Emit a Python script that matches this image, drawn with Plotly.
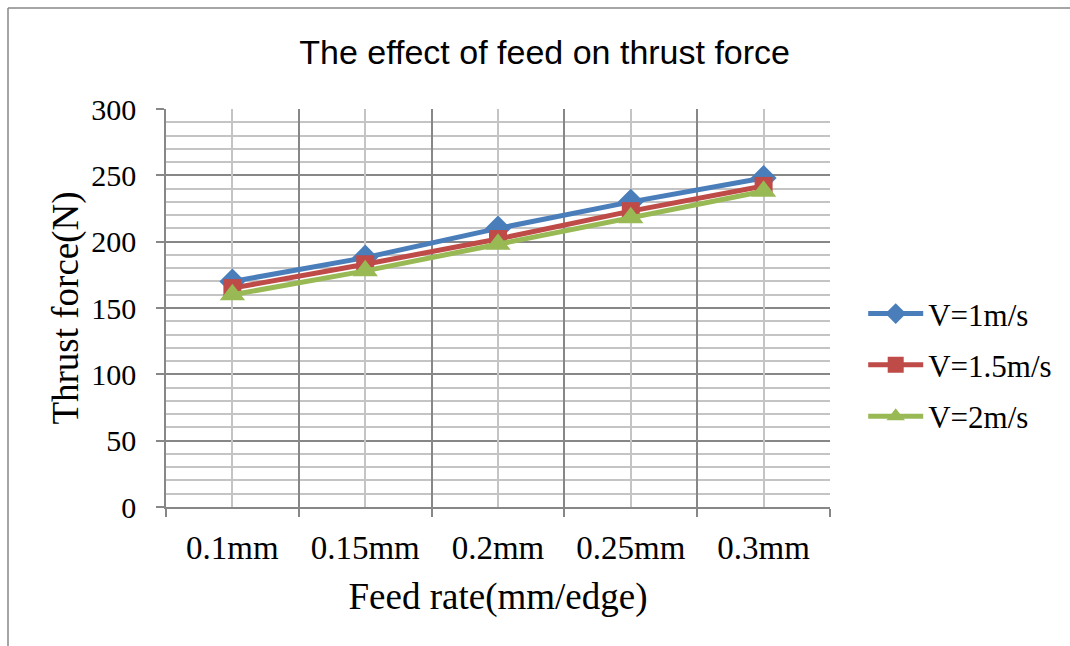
import plotly.graph_objects as go

categories = ["0.1mm", "0.15mm", "0.2mm", "0.25mm", "0.3mm"]
v1 = [170, 188, 210, 230, 248]
v15 = [165, 183, 202, 223, 242]
v2 = [160, 178, 198, 218, 238]
series_names = ["V=1m/s", "V=1.5m/s", "V=2m/s"]

colors = ["#4A7EBB", "#BE4B48", "#98B954"]
symbols = ["diamond", "square", "triangle-up"]
sizes = [20, 18, 22]

fig = go.Figure()
for name, vals, c, s, sz in zip(series_names, [v1, v15, v2], colors, symbols, sizes):
    fig.add_trace(go.Scatter(
        x=categories, y=vals, name=name, mode="lines+markers", legendgroup=name,
        line=dict(color=c, width=5),
        marker=dict(symbol=s, size=sz, color=c, line=dict(width=0)),
    ))

serif = "Liberation Serif, Times New Roman, serif"
major = "#878787"
minor = "#C4C4C4"

fig.update_layout(
    width=1070, height=646,
    margin=dict(l=166, r=240, t=109, b=139),
    paper_bgcolor="white", plot_bgcolor="white",
    title=dict(text="The effect of feed on thrust force", x=0.509, xref="container",
               y=1 - 52 / 646, yref="container", yanchor="middle", xanchor="center",
               font=dict(family="Liberation Sans Narrow, Liberation Sans, Arial, sans-serif",
                         size=34, color="black")),
    xaxis=dict(type="category", categoryorder="array", categoryarray=categories,
               range=[-0.5, len(categories) - 0.5], tickson="boundaries",
               showgrid=True, gridcolor=major, gridwidth=1.5,
               showline=True, linecolor=major, linewidth=1.5,
               ticks="outside", ticklen=8, tickcolor=major, tickwidth=1.5,
               ticklabelstandoff=11,
               tickfont=dict(family=serif, size=33, color="black"),
               title=dict(text="Feed rate(mm/edge)", standoff=18,
                          font=dict(family=serif, size=37, color="black")),
               zeroline=False),
    xaxis2=dict(overlaying="x", range=[-0.5, len(categories) - 0.5], tick0=0, dtick=1,
                showgrid=True, gridcolor=minor, gridwidth=1.5, showticklabels=False,
                ticks="", showline=False, zeroline=False, side="bottom"),
    yaxis=dict(range=[0, 300], dtick=50, showgrid=True, gridcolor=major, gridwidth=1.5,
               minor=dict(dtick=10, showgrid=True, gridcolor=minor, gridwidth=1.5, ticks=""),
               showline=True, linecolor=major, linewidth=1.5,
               ticks="outside", ticklen=8, tickcolor=major, tickwidth=1.5,
               ticklabelstandoff=14,
               tickfont=dict(family=serif, size=30, color="black"),
               title=dict(text="Thrust force(N)", standoff=1,
                          font=dict(family=serif, size=37, color="black")),
               zeroline=False),
    legend=dict(x=1.05, xanchor="left", y=0.357, yanchor="middle",
                font=dict(family=serif, size=31, color="black"),
                itemwidth=55, tracegroupgap=8, bgcolor="rgba(0,0,0,0)"),
    shapes=[
        dict(type="line", xref="paper", yref="paper", x0=(8 - 166) / 664, x1=2,
             y0=(507 - 8) / 398, y1=(507 - 8) / 398, line=dict(color=major, width=1.5)),
        dict(type="line", xref="paper", yref="paper", x0=(8 - 166) / 664, x1=(8 - 166) / 664,
             y0=(507 - 8) / 398, y1=-1, line=dict(color=major, width=1.5)),
    ],
)

# invisible trace to anchor the secondary grid axis
fig.add_trace(go.Scatter(x=[0], y=[0], xaxis="x2", mode="markers",
                         marker=dict(opacity=0), showlegend=False, hoverinfo="skip"))

fig.write_html("out.html")
